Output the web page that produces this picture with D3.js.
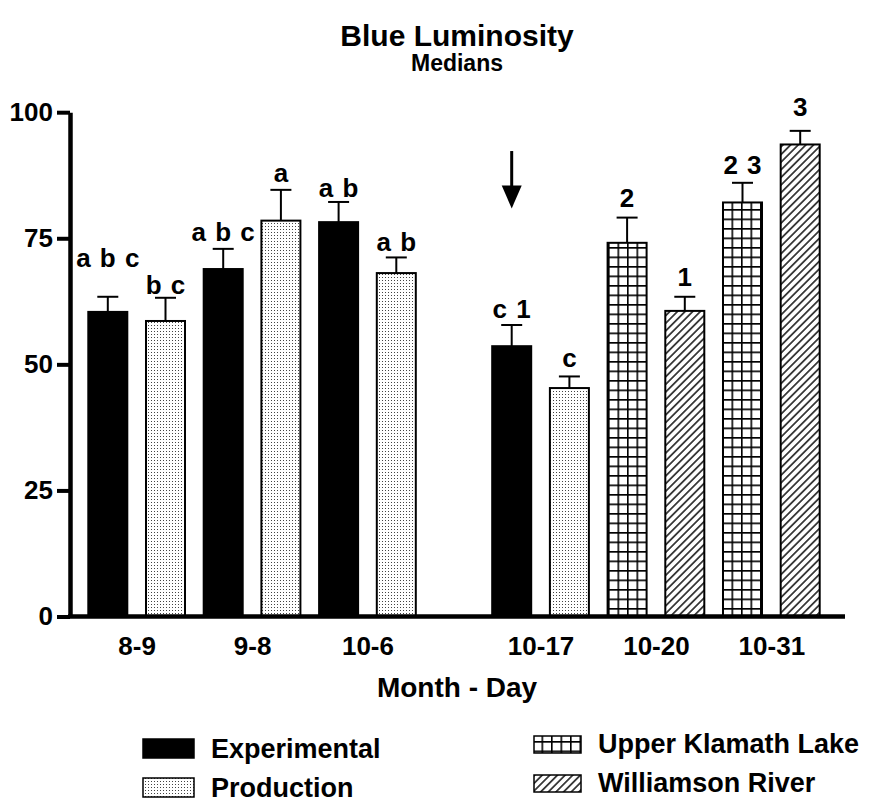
<!DOCTYPE html>
<html>
<head>
<meta charset="utf-8">
<script src="https://cdn.jsdelivr.net/npm/d3@7"></script>
<style>
  body { margin: 0; background: #fff; }
  text { font-family: "Liberation Sans", Arial, sans-serif; font-weight: bold; fill: #000; }
</style>
</head>
<body>
<script>
/*--- data ---*/
let dates = ["8-9", "9-8", "10-6", "10-17", "10-20", "10-31"];
let groups = ["Experimental", "Production", "Upper Klamath Lake", "Williamson River"];

let barDate = ["8-9", "8-9", "9-8", "9-8", "10-6", "10-6", "10-17", "10-17", "10-20", "10-20", "10-31", "10-31"];
let barGroup = ["Experimental", "Production", "Experimental", "Production", "Experimental", "Production",
                "Experimental", "Production", "Upper Klamath Lake", "Williamson River", "Upper Klamath Lake", "Williamson River"];
let medians = [60.4, 58.6, 68.9, 78.5, 78.2, 68.1, 53.6, 45.3, 74.1, 60.6, 82.1, 93.6];
let errTop  = [63.4, 63.2, 72.9, 84.6, 82.2, 71.2, 57.8, 47.6, 79.1, 63.4, 86.0, 96.3];
let letters = ["a b c", "b c", "a b c", "a", "a b", "a b", "c 1", "c", "2", "1", "2 3", "3"];
let letterAt = [69.4, 64.0, 74.5, 86.1, 83.2, 72.5, 59.1, 49.4, 81.3, 65.5, 87.7, 99.3];

let yTicks = [0, 25, 50, 75, 100];

// arrow over the 10-17 experimental bar
let arrowDate = "10-17";
let arrowFrom = 92.3;
let arrowTo = 80.9;

/*--- svg ---*/
let width = 878;
let height = 806;

let svg = d3.select("body")
    .append("svg")
    .attr("width", width)
    .attr("height", height);

let defs = svg.append("defs");

// fill patterns
let dots = defs.append("pattern").attr("id", "dots")
    .attr("patternUnits", "userSpaceOnUse").attr("width", 3).attr("height", 3);
dots.append("rect").attr("width", 3).attr("height", 3).attr("fill", "#fff");
dots.append("rect").attr("x", 1).attr("y", 1).attr("width", 1).attr("height", 1).attr("fill", "#444");

let grid = defs.append("pattern").attr("id", "grid")
    .attr("patternUnits", "userSpaceOnUse").attr("width", 9.5).attr("height", 9.5);
grid.append("rect").attr("width", 9.5).attr("height", 9.5).attr("fill", "#fff");
grid.append("path").attr("d", "M0,0.8H9.5M0.8,0V9.5")
    .attr("stroke", "#000").attr("stroke-width", 1.6);

let hatch = defs.append("pattern").attr("id", "hatch")
    .attr("patternUnits", "userSpaceOnUse").attr("width", 5.4).attr("height", 10)
    .attr("patternTransform", "rotate(45)");
hatch.append("rect").attr("width", 5.4).attr("height", 10).attr("fill", "#fff");
hatch.append("line").attr("x1", 2.7).attr("x2", 2.7).attr("y1", 0).attr("y2", 10)
    .attr("stroke", "#000").attr("stroke-width", 1.4);

let fills = d3.scaleOrdinal()
    .domain(groups)
    .range(["#000", "url(#dots)", "url(#grid)", "url(#hatch)"]);

/*--- scales ---*/
// one slot per bar, with an empty slot before 10-17
let slots = [];
barDate.forEach(function(d, i) {
    if (d === "10-17" && barDate[i - 1] !== "10-17") slots.push("gap");
    slots.push(i);
});

let X = d3.scaleBand().domain(slots).range([88.3, 819.7]).paddingInner(0.324).paddingOuter(0);
let Y = d3.scaleLinear().domain([0, 100]).range([616.5, 112.2]);

let bw = X.bandwidth();
let cx = function(i) { return X(i) + bw / 2; };

let xDate = d3.scaleOrdinal()
    .domain(dates)
    .range(dates.map(function(d) {
        let idx = d3.range(barDate.length).filter(function(i) { return barDate[i] === d; });
        return (X(idx[0]) + X(idx[idx.length - 1]) + bw) / 2;
    }));

/*--- title ---*/
svg.append("text").attr("x", 457).attr("y", 46)
    .attr("text-anchor", "middle").style("font-size", "30px")
    .text("Blue Luminosity");
svg.append("text").attr("x", 457).attr("y", 71)
    .attr("text-anchor", "middle").style("font-size", "23px")
    .text("Medians");

/*--- bars ---*/
let idx = d3.range(medians.length);

svg.append("g").selectAll("rect")
    .data(idx)
    .join("rect")
    .attr("x", function(i) { return X(i); })
    .attr("y", function(i) { return Y(medians[i]); })
    .attr("width", bw)
    .attr("height", function(i) { return Y(0) - Y(medians[i]); })
    .attr("fill", function(i) { return fills(barGroup[i]); })
    .attr("stroke", "#000")
    .attr("stroke-width", 2);

// error bars (upper only)
let err = svg.append("g").attr("stroke", "#000").attr("stroke-width", 2);
err.selectAll("line.v")
    .data(idx)
    .join("line")
    .attr("class", "v")
    .attr("x1", cx).attr("x2", cx)
    .attr("y1", function(i) { return Y(medians[i]); })
    .attr("y2", function(i) { return Y(errTop[i]); });
err.selectAll("line.cap")
    .data(idx)
    .join("line")
    .attr("class", "cap")
    .attr("x1", function(i) { return cx(i) - 10.5; })
    .attr("x2", function(i) { return cx(i) + 10.5; })
    .attr("y1", function(i) { return Y(errTop[i]); })
    .attr("y2", function(i) { return Y(errTop[i]); });

// significance letters
svg.append("g").selectAll("text")
    .data(idx)
    .join("text")
    .attr("x", cx)
    .attr("y", function(i) { return Y(letterAt[i]); })
    .attr("text-anchor", "middle")
    .style("font-size", "26px")
    .style("word-spacing", "2px")
    .text(function(i) { return letters[i]; });

// arrow
let ai = barDate.indexOf(arrowDate);
let ax = cx(ai);
svg.append("line")
    .attr("x1", ax).attr("x2", ax)
    .attr("y1", Y(arrowFrom)).attr("y2", Y(arrowTo) - 20)
    .attr("stroke", "#000").attr("stroke-width", 3);
svg.append("path")
    .attr("d", "M" + (ax - 10) + "," + (Y(arrowTo) - 23) + "L" + (ax + 10) + "," + (Y(arrowTo) - 23) +
               "L" + ax + "," + Y(arrowTo) + "Z")
    .attr("fill", "#000");

/*--- axes ---*/
let yEje = d3.axisLeft(Y).tickValues(yTicks).tickSize(13).tickSizeOuter(0).tickPadding(4);
let gy = svg.append("g")
    .attr("transform", "translate(70,0)")
    .call(yEje);
gy.select(".domain").attr("stroke-width", 4.5);
gy.selectAll(".tick line").attr("stroke-width", 4);
gy.selectAll(".tick text").style("font-size", "26px").attr("font-family", null);

// x axis line
svg.append("line")
    .attr("x1", 68).attr("x2", 845)
    .attr("y1", Y(0)).attr("y2", Y(0))
    .attr("stroke", "#000").attr("stroke-width", 4.5);

let xEje = d3.axisBottom(xDate).tickSize(0).tickPadding(20);
let gx = svg.append("g")
    .attr("transform", "translate(0," + Y(0) + ")")
    .call(xEje);
gx.select(".domain").remove();
gx.selectAll(".tick text").style("font-size", "26px").attr("font-family", null);

svg.append("text").attr("x", 457).attr("y", 697)
    .attr("text-anchor", "middle").style("font-size", "28px")
    .text("Month - Day");

/*--- legend ---*/
let legendX = [143, 143, 534, 534];
let legendY = [739, 778, 736, 775];
let legendW = [51, 51, 47, 47];
let legendH = [19, 19, 17, 17];

let lg = svg.append("g").selectAll("g")
    .data(groups)
    .join("g");
lg.append("rect")
    .attr("x", function(d, i) { return legendX[i]; })
    .attr("y", function(d, i) { return legendY[i]; })
    .attr("width", function(d, i) { return legendW[i]; })
    .attr("height", function(d, i) { return legendH[i]; })
    .attr("fill", function(d) { return fills(d); })
    .attr("stroke", "#000")
    .attr("stroke-width", 1.5);
lg.append("text")
    .attr("x", function(d, i) { return legendX[i] + legendW[i] + 17; })
    .attr("y", function(d, i) { return legendY[i] + legendH[i]; })
    .style("font-size", "27px")
    .text(function(d) { return d; });
</script>
</body>
</html>
